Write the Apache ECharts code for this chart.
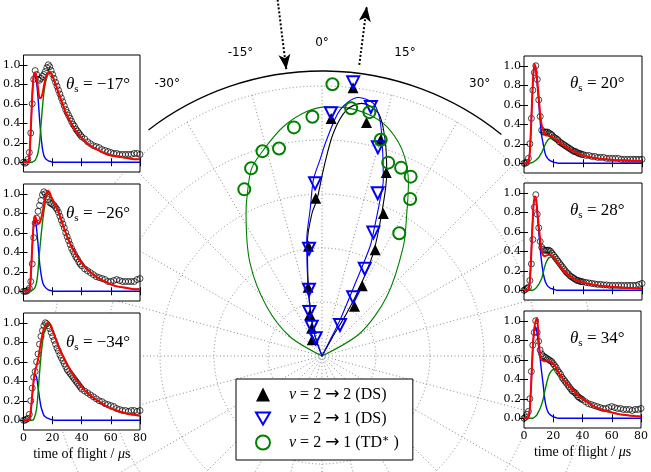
<!DOCTYPE html>
<html><head><meta charset="utf-8">
<script src="https://cdn.jsdelivr.net/npm/echarts@6/dist/echarts.min.js"></script>
<style>html,body{margin:0;padding:0;background:#fff}#c{width:651px;height:472px}</style>
</head><body><div id="c"></div>
<script>
// ---------- central polar panel ----------
const angleTickLabels = [-30, -15, 0, 15, 30];
// v=2->2 (DS)  black filled triangles
const ds22Angle = [-31, -20.4, -16.3, -11.4, -7, -2.3, 2.2, 6.6, 10.8, 15.2, 19.3, 23.3, 26.6, 29.8, 33.2];
const ds22R     = [0.07, 0.11, 0.16, 0.26, 0.41, 0.585, 0.88, 1.0, 0.88, 0.83, 0.72, 0.575, 0.44, 0.30, 0.22];
// v=2->1 (DS)  blue open down-triangles
const ds21Angle = [-19.6, -19.4, -16, -11.1, -6.9, -2.3, 2.1, 6.5, 11.1, 15, 18.9, 22.6, 26.1, 28, 30.1];
const ds21R     = [0.07, 0.115, 0.17, 0.25, 0.40, 0.64, 0.90, 1.02, 0.94, 0.80, 0.637, 0.495, 0.36, 0.246, 0.133];
// v=2->1 (TD*) green open circles
const td21Angle = [-25, -20.7, -16.2, -11.7, -7, -2.3, 2.2, 6.7, 11, 15.2, 18.9, 22.8, 26.3, 29.3, 32.2];
const td21R     = [0.681, 0.743, 0.79, 0.785, 0.853, 0.887, 1.007, 0.924, 0.92, 0.83, 0.757, 0.756, 0.741, 0.667, 0.537];
// fitted angular distributions
const fit22Angle = [-25, -18, -11.5, -7.2, -4, -1.9, 0.6, 2.9, 5.7, 8.9, 13.1, 16.3, 19.5, 22.7, 26.5, 28.7, 30, 29, 28];
const fit22R     = [0, 0.10, 0.25, 0.43, 0.53, 0.578, 0.70, 0.826, 0.916, 0.947, 0.923, 0.833, 0.718, 0.573, 0.425, 0.293, 0.183, 0.08, 0];
const fit21Angle = [-25, -18.5, -11.7, -7.5, -4.5, -2.8, -0.5, 1.2, 4.2, 8, 11.5, 13.8, 16.4, 19.2, 20.4, 22.5, 23.7, 24.5, 26.6, 27, 27];
const fit21R     = [0, 0.10, 0.25, 0.433, 0.55, 0.653, 0.73, 0.80, 0.914, 0.967, 0.955, 0.90, 0.795, 0.69, 0.616, 0.5, 0.442, 0.309, 0.149, 0.05, 0];
const fitTDAngle = [-75, -58.9, -48.3, -37.8, -28, -25.8, -20.7, -15.9, -9.6, -3.6, 1.1, 6.4, 12.1, 16.7, 21.9, 26.6, 30.7, 36.6, 47.5, 59.1, 72];
const fitTDR     = [0, 0.138, 0.274, 0.435, 0.599, 0.641, 0.74, 0.793, 0.861, 0.907, 0.923, 0.923, 0.906, 0.874, 0.809, 0.715, 0.615, 0.505, 0.325, 0.164, 0];
// incident / scattered beam arrows (angle, radius from -> to)
const beamArrowAngle = [-7.1, 7.3];
const beamArrowFrom  = [1.36, 1.087];
const beamArrowTo    = [1.07, 1.305];

// ---------- time-of-flight insets ----------
const tofCircleTimes = [0,1,2,3,4,5,6,7,8,9,10,11,12,13,14,15,16,17,18,19,20,21,22,23,24,25,26,27,28,29,30,31,32,33,34,35,36,37,38,39,40,42,44,46,48,50,52,54,56,58,60,62,64,66,68,70,72,74,76,78,80];
const tofFitTimes = [0,1,2,3,4,5,6,7,8,9,10,11,12,13,14,15,16,17,18,19,20,21,22,23,24,25,26,27,28,29,30,32,34,36,38,40,44,48,52,56,60,64,68,72,76,80];
const yTickValues = [0, 0.2, 0.4, 0.6, 0.8, 1.0];
const insetAngleLabels = ['−17°', '−26°', '−34°', '20°', '28°', '34°'];

const m17Data = [0,-0.01,0,0.03,0.1,0.3,0.6,0.85,0.94,0.9,0.85, 0.84,0.86,0.88,0.9,0.93,0.97,1.0,0.98,0.94,0.9, 0.86,0.82,0.78,0.74,0.7,0.66,0.62,0.58,0.54,0.51, 0.48,0.45,0.42,0.39,0.37,0.34,0.32,0.3,0.28,0.26, 0.24,0.21,0.19,0.17,0.16,0.15,0.13,0.12,0.11,0.1,0.09,0.09,0.08,0.08,0.08,0.08,0.08,0.09,0.09,0.08];
const m17Red  = [0,0,0,0,0.05,0.33,0.68,0.89,0.92,0.87,0.76, 0.66,0.66,0.7,0.78,0.85,0.89,0.92,0.93,0.91,0.88, 0.84,0.8,0.76,0.71,0.67,0.63,0.59,0.55,0.51,0.48, 0.42,0.37,0.32,0.28,0.25, 0.19,0.15,0.12,0.09,0.07,0.06,0.05,0.04,0.03,0.03];
const m17Fast = [0,0,0,0,0.05,0.33,0.68,0.88,0.9,0.82,0.66, 0.45,0.27,0.14,0.07,0.04,0.025,0.015,0.01,0.005,0, 0,0,0,0,0,0,0,0,0,0, 0,0,0,0,0, 0,0,0,0,0,0,0,0,0,0];
const m17Slow = [0,0,0,0,0,0,0,0.01,0.02,0.05,0.1, 0.2,0.38,0.56,0.71,0.81,0.87,0.91,0.92,0.91,0.88, 0.84,0.8,0.76,0.71,0.67,0.63,0.59,0.55,0.51,0.48, 0.42,0.37,0.32,0.28,0.25, 0.19,0.15,0.12,0.09,0.07,0.06,0.05,0.04,0.03,0.03];

const m26Data = [0,0,0,0.01,0.03,0.1,0.28,0.55,0.7,0.75,0.82, 0.88,0.93,0.99,1.02,1.0,0.97,0.94,0.91,0.9,0.89, 0.88,0.86,0.84,0.81,0.77,0.73,0.69,0.65,0.6,0.56, 0.52,0.48,0.44,0.41,0.38,0.35,0.33,0.3,0.28,0.26, 0.23,0.21,0.19,0.17,0.15,0.14,0.13,0.12,0.1,0.1,0.11,0.12,0.11,0.1,0.1,0.1,0.1,0.1,0.12,0.13];
const m26Red  = [0,0,0,0,0.02,0.15,0.46,0.7,0.77,0.73,0.69, 0.7,0.74,0.8,0.88,0.96,1.02,1.03,1.01,0.97,0.94, 0.91,0.88,0.85,0.82,0.77,0.73,0.68,0.64,0.6,0.56, 0.49,0.43,0.38,0.33,0.29, 0.22,0.17,0.13,0.1,0.07,0.05,0.04,0.03,0.02,0.02];
const m26Fast = [0,0,0,0,0.02,0.15,0.45,0.68,0.73,0.64,0.48, 0.3,0.18,0.1,0.06,0.04,0.025,0.015,0.01,0.005,0, 0,0,0,0,0,0,0,0,0,0, 0,0,0,0,0, 0,0,0,0,0,0,0,0,0,0];
const m26Slow = [0,0,0,0,0,0,0.01,0.02,0.04,0.09,0.21, 0.4,0.56,0.7,0.82,0.92,0.995,1.015,1.0,0.965,0.94, 0.91,0.88,0.85,0.82,0.77,0.73,0.68,0.64,0.6,0.56, 0.49,0.43,0.38,0.33,0.29, 0.22,0.17,0.13,0.1,0.07,0.05,0.04,0.03,0.02,0.02];

const m34Data = [0,0,0.01,0.02,0.06,0.2,0.33,0.44,0.5,0.6,0.68, 0.78,0.86,0.92,0.97,1.0,0.99,0.97,0.94,0.9,0.86, 0.82,0.78,0.74,0.71,0.67,0.64,0.61,0.58,0.55,0.52, 0.5,0.48,0.46,0.44,0.42,0.4,0.38,0.36,0.34,0.32, 0.3,0.28,0.26,0.24,0.22,0.2,0.19,0.17,0.16,0.15,0.14,0.12,0.11,0.1,0.1,0.09,0.1,0.1,0.09,0.1];
const m34Red  = [0,0,0,0,0.01,0.09,0.26,0.41,0.51,0.56,0.62, 0.71,0.8,0.88,0.94,0.97,0.99,1.0,0.99,0.96,0.92, 0.88,0.84,0.8,0.76,0.72,0.69,0.66,0.63,0.6,0.57, 0.52,0.47,0.42,0.38,0.34, 0.28,0.23,0.19,0.15,0.12,0.1,0.08,0.065,0.055,0.045];
const m34Fast = [0,0,0,0,0.01,0.08,0.25,0.4,0.46,0.44,0.34, 0.23,0.14,0.09,0.05,0.035,0.025,0.02,0.012,0.008,0.005, 0,0,0,0,0,0,0,0,0,0, 0,0,0,0,0, 0,0,0,0,0,0,0,0,0,0];
const m34Slow = [0,0,0,0,0,0,0,0.01,0.05,0.12,0.28, 0.48,0.66,0.79,0.89,0.935,0.965,0.98,0.98,0.955,0.915, 0.88,0.84,0.8,0.76,0.72,0.69,0.66,0.63,0.6,0.57, 0.52,0.47,0.42,0.38,0.34, 0.28,0.23,0.19,0.15,0.12,0.1,0.08,0.065,0.055,0.045];

const p20Data = [0,0,0.01,0.05,0.2,0.46,0.75,0.93,1.0,0.86,0.65, 0.48,0.34,0.32,0.32,0.32,0.32,0.31,0.3,0.29,0.27, 0.26,0.25,0.24,0.22,0.21,0.2,0.19,0.18,0.17,0.16, 0.15,0.14,0.13,0.12,0.12,0.11,0.1,0.1,0.09,0.09, 0.08,0.08,0.07,0.07,0.06,0.06,0.06,0.05,0.05,0.05,0.05,0.05,0.04,0.04,0.04,0.04,0.04,0.04,0.04,0.04];
const p20Red  = [0,0,0,0.01,0.12,0.455,0.83,1.02,0.98,0.845,0.68, 0.505,0.39,0.345,0.3,0.285,0.285,0.285,0.28,0.273,0.262, 0.253,0.24,0.225,0.215,0.2,0.19,0.18,0.17,0.16,0.15, 0.135,0.12,0.105,0.09,0.08, 0.065,0.055,0.045,0.04,0.035,0.03,0.03,0.027,0.025,0.023];
const p20Fast = [0,0,0,0.01,0.12,0.45,0.82,1.0,0.95,0.8,0.62, 0.42,0.28,0.2,0.12,0.075,0.05,0.035,0.025,0.018,0.012, 0.008,0.005,0,0,0,0,0,0,0,0, 0,0,0,0,0, 0,0,0,0,0,0,0,0,0,0];
const p20Slow = [0,0,0,0,0,0.005,0.01,0.02,0.03,0.045,0.06, 0.085,0.11,0.145,0.18,0.21,0.235,0.25,0.255,0.255,0.25, 0.245,0.235,0.225,0.215,0.2,0.19,0.18,0.17,0.16,0.15, 0.135,0.12,0.105,0.09,0.08, 0.065,0.055,0.045,0.04,0.035,0.03,0.03,0.027,0.025,0.023];

const p28Data = [0,0.01,0.02,0.03,0.1,0.27,0.52,0.85,0.98,0.78,0.64, 0.5,0.44,0.42,0.41,0.41,0.41,0.41,0.4,0.38,0.36, 0.34,0.32,0.3,0.28,0.26,0.24,0.22,0.2,0.18,0.17, 0.15,0.14,0.13,0.12,0.11,0.1,0.1,0.09,0.09,0.085, 0.08,0.075,0.07,0.065,0.06,0.06,0.055,0.055,0.05,0.05,0.05,0.05,0.05,0.05,0.05,0.05,0.05,0.05,0.06,0.07];
const p28Red  = [0,0,0,0.01,0.1,0.4,0.75,0.96,0.96,0.82,0.66, 0.52,0.4,0.36,0.35,0.355,0.36,0.365,0.36,0.355,0.34, 0.32,0.295,0.275,0.255,0.235,0.215,0.2,0.185,0.17,0.155, 0.135,0.115,0.1,0.09,0.08, 0.065,0.055,0.045,0.04,0.035,0.03,0.025,0.022,0.02,0.017];
const p28Fast = [0,0,0,0.01,0.1,0.4,0.75,0.93,0.93,0.78,0.6, 0.43,0.28,0.18,0.11,0.07,0.045,0.03,0.02,0.015,0.01, 0.005,0,0,0,0,0,0,0,0,0, 0,0,0,0,0, 0,0,0,0,0,0,0,0,0,0];
const p28Slow = [0,0,0,0,0,0,0,0.01,0.02,0.04,0.06, 0.09,0.12,0.18,0.24,0.285,0.315,0.335,0.34,0.34,0.33, 0.315,0.295,0.275,0.255,0.235,0.215,0.2,0.185,0.17,0.155, 0.135,0.115,0.1,0.09,0.08, 0.065,0.055,0.045,0.04,0.035,0.03,0.025,0.022,0.02,0.017];

const p34Data = [0,0.01,0.04,0.07,0.2,0.48,0.75,0.88,1.0,0.88,0.79, 0.7,0.66,0.64,0.63,0.62,0.61,0.6,0.59,0.58,0.56, 0.54,0.52,0.49,0.47,0.45,0.42,0.4,0.38,0.36,0.34, 0.32,0.3,0.28,0.27,0.26,0.24,0.22,0.21,0.2,0.19, 0.17,0.15,0.14,0.13,0.12,0.11,0.1,0.1,0.11,0.12,0.11,0.1,0.1,0.09,0.09,0.09,0.08,0.09,0.09,0.1];
const p34Red  = [0,0,0,0.01,0.1,0.38,0.72,0.92,1.0,1.03,0.82, 0.64,0.6,0.59,0.585,0.585,0.585,0.585,0.58,0.57,0.56, 0.54,0.52,0.49,0.46,0.44,0.42,0.4,0.38,0.36,0.345, 0.31,0.28,0.25,0.22,0.2, 0.16,0.12,0.095,0.075,0.06,0.045,0.035,0.028,0.022,0.017];
const p34Fast = [0,0,0,0.01,0.1,0.38,0.72,0.9,0.94,0.87,0.74, 0.62,0.48,0.36,0.22,0.13,0.08,0.05,0.035,0.025,0.015, 0.01,0.005,0,0,0,0,0,0,0,0, 0,0,0,0,0, 0,0,0,0,0,0,0,0,0,0];
const p34Slow = [0,0,0,0,0,0,0,0.01,0.02,0.04,0.07, 0.1,0.14,0.19,0.26,0.33,0.39,0.44,0.47,0.49,0.5, 0.5,0.5,0.48,0.46,0.44,0.42,0.4,0.38,0.36,0.34, 0.31,0.28,0.25,0.22,0.2, 0.16,0.12,0.095,0.075,0.06,0.045,0.035,0.028,0.022,0.017];

// ---------- build ----------
const serif = "'DejaVu Serif', serif";
const tex = "'Liberation Serif', 'DejaVu Serif', serif";
const insets = [
  {data: m17Data, red: m17Red, fast: m17Fast, slow: m17Slow},
  {data: m26Data, red: m26Red, fast: m26Fast, slow: m26Slow},
  {data: m34Data, red: m34Red, fast: m34Fast, slow: m34Slow},
  {data: p20Data, red: p20Red, fast: p20Fast, slow: p20Slow},
  {data: p28Data, red: p28Red, fast: p28Fast, slow: p28Slow},
  {data: p34Data, red: p34Red, fast: p34Fast, slow: p34Slow}
];
const boxes = [
  {left: 21, top: 55, width: 119}, {left: 21, top: 184, width: 119}, {left: 21, top: 313, width: 119},
  {left: 524, top: 56, width: 118}, {left: 524, top: 183, width: 118}, {left: 524, top: 311, width: 118}
];
const grids = [], xAxes = [], yAxes = [], series = [], titles = [];
const tickStyle = {show: true, inside: true, length: 4, lineStyle: {color: '#000', width: 1}};
insets.forEach((ins, i) => {
  const b = boxes[i];
  const bottom = (i % 3 === 2);
  grids.push({left: b.left, top: b.top, width: b.width, height: 117, show: true,
    backgroundColor: '#fff', borderColor: '#000', borderWidth: 1, z: 3});
  xAxes.push({gridIndex: i, type: 'value', min: 0, max: 80, interval: 20, position: 'bottom', z: 4,
    axisLine: {show: false}, axisTick: tickStyle, splitLine: {show: false},
    axisLabel: {show: bottom, margin: 3, fontFamily: serif, fontSize: 11, color: '#000'},
    name: bottom ? 'time of flight / {m|μ}s' : '', nameLocation: 'middle', nameGap: 17,
    nameTextStyle: {fontFamily: tex, fontSize: 14, color: '#000',
      rich: {m: {fontFamily: tex, fontStyle: 'italic', fontSize: 14, color: '#000'}}}});
  xAxes.push({gridIndex: i, type: 'value', min: 0, max: 80, interval: 20, position: 'top', z: 4,
    axisLine: {show: false}, axisTick: tickStyle, axisLabel: {show: false}, splitLine: {show: false}});
  yAxes.push({gridIndex: i, type: 'value', min: -0.1, max: 1.1, position: 'left', z: 4,
    axisLine: {show: false}, splitLine: {show: false},
    axisTick: Object.assign({customValues: yTickValues}, tickStyle),
    axisLabel: {customValues: yTickValues, margin: 3, formatter: v => v.toFixed(1),
      fontFamily: serif, fontSize: 11, color: '#000'}});
  yAxes.push({gridIndex: i, type: 'value', min: -0.1, max: 1.1, position: 'right', z: 4,
    axisLine: {show: false}, splitLine: {show: false},
    axisTick: Object.assign({customValues: yTickValues}, tickStyle), axisLabel: {show: false}});
  series.push({type: 'scatter', xAxisIndex: 2 * i, yAxisIndex: 2 * i, z: 5, silent: true,
    data: tofCircleTimes.map((t, k) => [t, ins.data[k]]), symbol: 'circle', symbolSize: 6,
    itemStyle: {color: 'rgba(0,0,0,0)', borderColor: 'rgba(0,0,0,0.72)', borderWidth: 1, opacity: 1}});
  [[ins.fast, '#0000ff', 1.4, 6], [ins.slow, '#008000', 1.4, 6], [ins.red, '#ff0000', 2, 7]].forEach(([arr, col, w, z]) => {
    series.push({type: 'line', xAxisIndex: 2 * i, yAxisIndex: 2 * i, z: z, silent: true,
      data: tofFitTimes.map((t, k) => [t, arr[k]]), symbol: 'none', smooth: 0.2,
      lineStyle: {color: col, width: w}});
  });
  titles.push({text: '{t|θ}{s|s}{n| = ' + insetAngleLabels[i] + '}',
    left: i < 3 ? 66 : 570, top: b.top + (i < 3 ? 20 : 18), padding: 0, z: 6,
    textStyle: {fontWeight: 'normal', rich: {
      t: {fontFamily: tex, fontStyle: 'italic', fontWeight: 'normal', fontSize: 17, color: '#000', lineHeight: 20},
      s: {fontFamily: tex, fontWeight: 'normal', fontSize: 11, color: '#000', verticalAlign: 'bottom', lineHeight: 12},
      n: {fontFamily: tex, fontWeight: 'normal', fontSize: 17, color: '#000', lineHeight: 20}}}});
});

const dotted = {color: '#888', type: [1, 2.5], width: 1};
const angleKey = {'-30': 'a', '-15': 'b', '0': 'c', '15': 'd', '30': 'e'};
const polarLabelFont = {fontFamily: "'DejaVu Sans', sans-serif", fontSize: 12, color: '#000'};

series.push(
  {type: 'line', coordinateSystem: 'polar', polarIndex: 0, name: 'fitTD', symbol: 'none', smooth: 0.3,
    data: fitTDAngle.map((a, k) => [fitTDR[k], a]), lineStyle: {color: '#008000', width: 1.1}, z: 2},
  {type: 'line', coordinateSystem: 'polar', polarIndex: 0, name: 'fit22', symbol: 'none', smooth: 0.3,
    data: fit22Angle.map((a, k) => [fit22R[k], a]), lineStyle: {color: '#000', width: 1.1}, z: 2},
  {type: 'line', coordinateSystem: 'polar', polarIndex: 0, name: 'fit21', symbol: 'none', smooth: 0.3,
    data: fit21Angle.map((a, k) => [fit21R[k], a]), lineStyle: {color: '#0000ff', width: 1.1}, z: 2},
  {type: 'scatter', coordinateSystem: 'polar', polarIndex: 0, name: 'v22', symbol: 'triangle', symbolSize: 11, clip: false,
    data: ds22Angle.map((a, k) => [ds22R[k], a]), itemStyle: {color: '#000', opacity: 1}, z: 2},
  {type: 'scatter', coordinateSystem: 'polar', polarIndex: 0, name: 'v21ds', symbol: 'triangle', symbolRotate: 180, symbolSize: 12, clip: false,
    data: ds21Angle.map((a, k) => [ds21R[k], a]), itemStyle: {color: 'rgba(0,0,0,0)', borderColor: '#0000ff', borderWidth: 2, opacity: 1}, z: 2},
  {type: 'scatter', coordinateSystem: 'polar', polarIndex: 0, name: 'v21td', symbol: 'circle', symbolSize: 12, clip: false,
    data: td21Angle.map((a, k) => [td21R[k], a]), itemStyle: {color: 'rgba(0,0,0,0)', borderColor: '#008000', borderWidth: 2, opacity: 1}, z: 2}
);
beamArrowAngle.forEach((a, k) => {
  series.push({type: 'line', coordinateSystem: 'polar', polarIndex: 2, clip: false, symbol: 'none', z: 2,
    data: [[beamArrowFrom[k], a], {value: [beamArrowTo[k], a], symbol: 'arrow', symbolSize: [9, 15],
      symbolRotate: k === 0 ? 180 + 7.1 : -7.3}],
    lineStyle: {color: '#000', width: 2, type: [2, 2]}, itemStyle: {color: '#000', opacity: 1}});
});

const hiddenAxis = {axisLine: {show: false}, axisTick: {show: false}, axisLabel: {show: false}, splitLine: {show: false}};
const legendRich = {
  i: {fontFamily: tex, fontStyle: 'italic', fontSize: 16, color: '#000', padding: [0, 0, 0, 14]},
  n: {fontFamily: tex, fontSize: 16, color: '#000'},
  a: {fontFamily: "'DejaVu Sans', sans-serif", fontSize: 17, color: '#000'},
  u: {fontFamily: tex, fontSize: 11, color: '#000', verticalAlign: 'top'}
};
const option = {
  animation: false,
  backgroundColor: '#fff',
  title: titles,
  grid: grids, xAxis: xAxes, yAxis: yAxes,
  polar: [{center: [322, 356], radius: 270}, {center: [322, 356], radius: 285}, {center: [322, 356], radius: 378}],
  angleAxis: [
    {polarIndex: 0, type: 'value', startAngle: 270, clockwise: true, min: -180, max: 180, interval: 15,
      axisLine: {show: false}, axisTick: {show: false}, axisLabel: {show: false},
      splitLine: {show: true, lineStyle: dotted}},
    {polarIndex: 1, type: 'value', startAngle: 127.5, endAngle: 51, clockwise: true, min: -37.5, max: 39,
      axisLine: {show: true, lineStyle: {color: '#000', width: 1.3}}, axisTick: {show: false},
      splitLine: {show: false},
      axisLabel: {customValues: angleTickLabels, margin: -1,
        formatter: v => '{' + angleKey[String(Math.round(v))] + '|' + Math.round(v) + '°}',
        rich: {
          a: Object.assign({padding: [0, 0, 20, 0]}, polarLabelFont),
          b: Object.assign({padding: [0, 16, 23, 0]}, polarLabelFont),
          c: Object.assign({padding: [0, 0, 23, 0]}, polarLabelFont),
          d: Object.assign({padding: [0, 0, 23, 19]}, polarLabelFont),
          e: Object.assign({padding: [0, 0, 20, 5]}, polarLabelFont)}}},
    Object.assign({polarIndex: 2, type: 'value', startAngle: 270, clockwise: true, min: -180, max: 180}, hiddenAxis)
  ],
  radiusAxis: [
    {polarIndex: 0, type: 'value', min: 0, max: 1, interval: 0.2,
      axisLine: {show: false}, axisTick: {show: false}, axisLabel: {show: false},
      splitLine: {show: true, lineStyle: dotted}},
    Object.assign({polarIndex: 1, type: 'value', min: 0, max: 1}, hiddenAxis),
    Object.assign({polarIndex: 2, type: 'value', min: 0, max: 1.4}, hiddenAxis)
  ],
  legend: {
    orient: 'vertical', left: 236, top: 379, padding: [7, 14, 9, 19], itemGap: 7,
    itemWidth: 14, itemHeight: 14, backgroundColor: '#fff', borderColor: '#000', borderWidth: 1, z: 10,
    data: [
      {name: 'v22'},
      {name: 'v21ds', icon: 'path://M0,0 L12,0 L6,10.4 Z', itemStyle: {color: 'rgba(0,0,0,0)', borderColor: '#0000ff', borderWidth: 2}},
      {name: 'v21td', itemStyle: {color: 'rgba(0,0,0,0)', borderColor: '#008000', borderWidth: 2}}
    ],
    formatter: n => ({
      v22: '{i|v}{n| = 2 }{a|→}{n| 2 (DS)}',
      v21ds: '{i|v}{n| = 2 }{a|→}{n| 1 (DS)}',
      v21td: '{i|v}{n| = 2 }{a|→}{n| 1 (TD}{u|∗}{n| )}'
    })[n],
    textStyle: {fontFamily: tex, fontSize: 16, color: '#000', rich: legendRich}
  },
  series: series
};
echarts.init(document.getElementById('c'), null, {renderer: 'canvas'}).setOption(option);
</script></body></html>
